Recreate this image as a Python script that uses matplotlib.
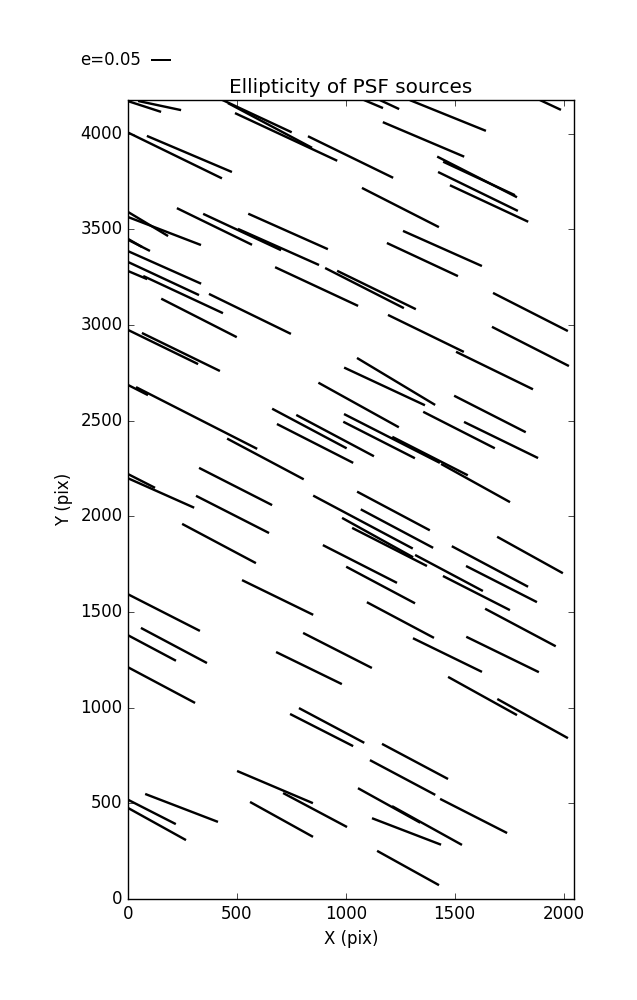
import numpy as np
import matplotlib
matplotlib.use("Agg")
import matplotlib.pyplot as plt

plt.style.use("classic")

# Source positions (pix), ellipticity magnitude, and position angle (deg)
x_src = [76, 145, 592, 652, 726, 1022, 1127, 1201, 1469, 1357, 1940, 216, 282,
         1603, 1612, 1607, 1658, 1251, 92, 168, 397, 524, 691, 735, 32, 51,
         168, 163, 44, 253, 326, 560, 866, 1086, 1141, 1444, 1352, 1848, 1368,
         1848, 161, 243, 1683, 1231, 1178, 1059, 1662, 46, 315, 631, 833, 951,
         859, 1212, 1153, 1387, 1596, 1520, 1713, 62, 152, 494, 480, 418, 1079,
         1219, 1235, 1146, 1201, 1846, 1662, 1715, 1474, 1600, 1065, 1160, 687,
         165, 1251, 1802, 211, 110, 962, 831, 1467, 1720, 154, 1628, 1858, 935,
         889, 1318, 1261, 675, 859, 1199, 1373, 1587, 246, 110, 705, 133, 1279,
         1286]
y_src = [4142, 4147, 4092, 4043, 3983, 3878, 4155, 4152, 4095, 3970, 4150, 3886,
         3894, 3774, 3766, 3698, 3635, 3614, 3528, 3491, 3515, 3486, 3408, 3489,
         3429, 3416, 3301, 3243, 3261, 3159, 3037, 3058, 3201, 3193, 3183, 3400,
         3342, 3068, 2956, 2888, 2885, 2859, 2762, 2705, 2679, 2582, 2535, 2660,
         2514, 2300, 2459, 2422, 2381, 2407, 2399, 2315, 2174, 2451, 2399, 2185,
         2122, 2156, 2010, 1858, 1970, 2028, 1936, 1889, 1840, 1798, 1738, 1646,
         1704, 1599, 1751, 1641, 1576, 1497, 1458, 1419, 1325, 1312, 1299, 1207,
         1275, 1278, 1118, 1061, 943, 907, 883, 719, 635, 585, 465, 489, 384,
         434, 476, 455, 416, 392, 353, 162]
e_src = [0.087, 0.110, 0.192, 0.238, 0.282, 0.237, 0.052, 0.053, 0.205, 0.221,
         0.058, 0.261, 0.231, 0.224, 0.198, 0.222, 0.216, 0.216, 0.117, 0.195,
         0.209, 0.215, 0.222, 0.218, 0.040, 0.061, 0.200, 0.196, 0.052, 0.220,
         0.212, 0.228, 0.229, 0.221, 0.219, 0.216, 0.196, 0.210, 0.211, 0.216,
         0.195, 0.217, 0.214, 0.228, 0.223, 0.230, 0.201, 0.056, 0.340, 0.217,
         0.211, 0.220, 0.214, 0.269, 0.201, 0.212, 0.197, 0.201, 0.206, 0.076,
         0.181, 0.205, 0.205, 0.209, 0.282, 0.206, 0.205, 0.203, 0.210, 0.188,
         0.216, 0.199, 0.192, 0.188, 0.208, 0.195, 0.198, 0.202, 0.190, 0.200,
         0.187, 0.136, 0.193, 0.183, 0.192, 0.202, 0.190, 0.197, 0.202, 0.185,
         0.177, 0.187, 0.185, 0.206, 0.181, 0.178, 0.200, 0.188, 0.195, 0.134,
         0.180, 0.166, 0.185, 0.177]
pa_src = [-18, -12, -25, -28, -25, -26, -23, -25, -22, -23, -25, -26, -23,
          -27, -25, -26, -25, -27, -31, -21, -26, -25, -24, -24, -30, -27,
          -24, -25, -23, -25, -27, -26, -25, -27, -26, -24, -25, -27, -26,
          -27, -26, -26, -26, -31, -25, -29, -27, -27, -27, -28, -28, -28,
          -27, -27, -27, -27, -29, -27, -26, -27, -24, -27, -27, -28, -28,
          -28, -28, -29, -27, -29, -28, -27, -28, -27, -27, -28, -26, -27,
          -28, -28, -28, -28, -27, -26, -26, -26, -28, -29, -29, -28, -27,
          -28, -28, -23, -28, -29, -29, -27, -21, -27, -29, -29, -21, -29]

key_e = 0.05
x_ticks = [0, 500, 1000, 1500, 2000]
y_ticks = [0, 500, 1000, 1500, 2000, 2500, 3000, 3500, 4000]

fig = plt.figure(figsize=(6.37, 10), dpi=100, facecolor="white")
ax = fig.add_axes([128 / 637, 101 / 1000, 446 / 637, 799 / 1000])
ax.set_facecolor("white")

e = np.array(e_src)
th = np.deg2rad(np.array(pa_src))
U = e * np.cos(th)
V = e * np.sin(th)
q = ax.quiver(x_src, y_src, U, V, angles="uv", pivot="middle",
              scale_units="inches", scale=0.25, units="dots", width=2.4,
              headwidth=0, headlength=0, headaxislength=0, color="black")
ax.quiverkey(q, 151 / 637, 0.94, key_e, "e=0.05", labelpos="W",
             coordinates="figure", fontproperties={"size": 12})

ax.set_xlim(0, 2048)
ax.set_ylim(0, 4176)
ax.set_xticks(x_ticks)
ax.set_yticks(y_ticks)
ax.set_xlabel("X (pix)", fontsize=12)
ax.set_ylabel("Y (pix)", fontsize=12)
ax.set_title("Ellipticity of PSF sources", fontsize=14.4)

fig.savefig("out.png", dpi=100, facecolor="white")
